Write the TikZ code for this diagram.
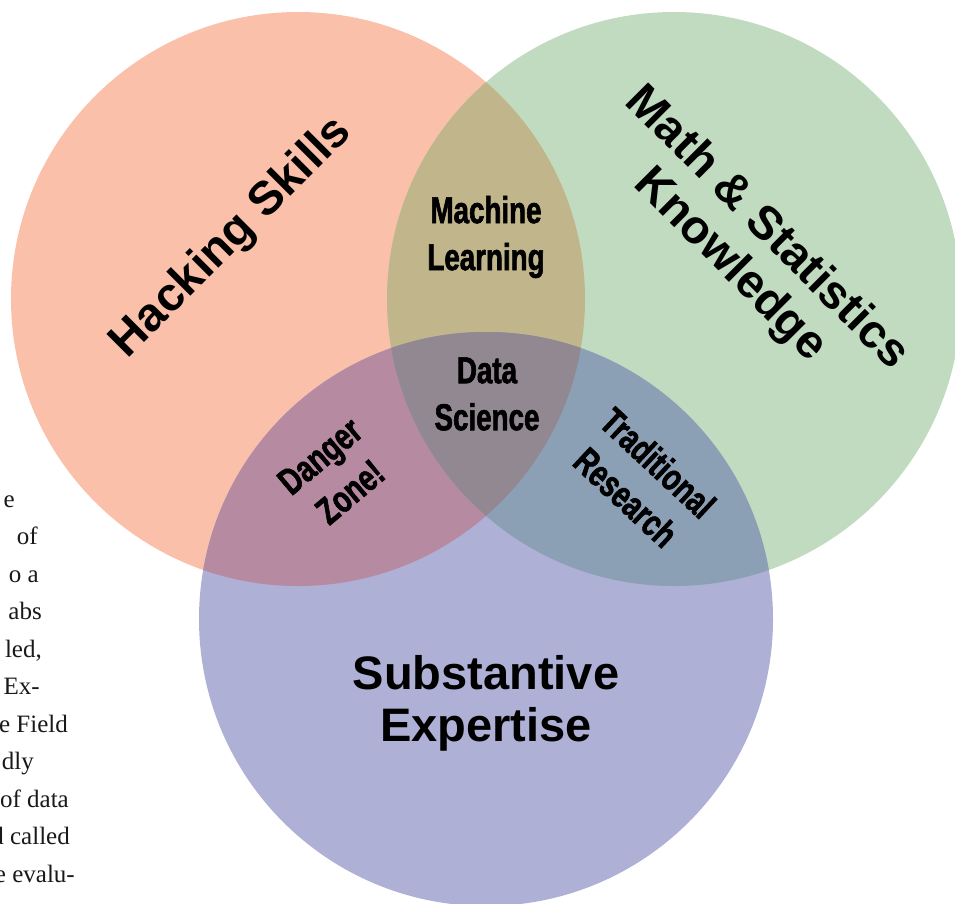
\documentclass[tikz,border=0pt]{standalone}
\usepackage{fontspec}
\setmainfont{Liberation Sans}
\newfontfamily\narrowfont[FakeStretch=0.74, FakeBold=1.6]{Liberation Sans}
\newfontfamily\bodyfont{Liberation Serif}
\usetikzlibrary{positioning}

\definecolor{hackcol}{HTML}{FAC0AA}
\definecolor{mathcol}{HTML}{C1DBC0}
\definecolor{substcol}{HTML}{AEB0D6}
\definecolor{mlcol}{HTML}{C1B58B}
\definecolor{dangercol}{HTML}{B68BA1}
\definecolor{tradcol}{HTML}{8BA0B4}
\definecolor{dscol}{HTML}{928891}

\begin{document}
\begin{tikzpicture}[
    x=1pt, y=-1pt,
    bigtag/.style={align=center, inner sep=0pt, font=\fontsize{47}{52}\selectfont\bfseries},
    smalltag/.style={align=center, inner sep=0pt, font=\narrowfont\bfseries\fontsize{37.5}{47}\selectfont},
    margintext/.style={anchor=base east, inner sep=0pt, text=black!90, font=\bodyfont\fontsize{25}{30}\selectfont}
]
    \useasboundingbox (0,0) rectangle (955,903);
    \def\rad{287pt}
    % centres of the three sets
    \coordinate (hack) at (298,299);
    \coordinate (math) at (674,299);
    \coordinate (subst) at (486,619);

    % the sets
    \fill[hackcol] (hack) circle[radius=\rad];
    \fill[mathcol] (math) circle[radius=\rad];
    \fill[substcol] (subst) circle[radius=\rad];

    % pairwise overlaps
    \begin{scope}
        \clip (hack) circle[radius=\rad];
        \fill[mlcol] (math) circle[radius=\rad];
        \fill[dangercol] (subst) circle[radius=\rad];
    \end{scope}
    \begin{scope}
        \clip (math) circle[radius=\rad];
        \fill[tradcol] (subst) circle[radius=\rad];
    \end{scope}
    % all three
    \begin{scope}
        \clip (hack) circle[radius=\rad];
        \clip (math) circle[radius=\rad];
        \fill[dscol] (subst) circle[radius=\rad];
    \end{scope}

    % set names
    \node[bigtag, rotate=45] (hacking) at (232,238) {Hacking Skills};
    \node[bigtag, rotate=-45] (mathstat) at (748,247) {Math \& Statistics\\Knowledge};
    \node[bigtag] (expertise) at (486,703) {Substantive\\Expertise};

    % overlap names
    \node[smalltag] (ml) at (486,237) {Machine\\Learning};
    \node[smalltag] (ds) at (487,394) {Data\\Science};
    \node[smalltag, rotate=40] (danger) at (335,474) {Danger\\Zone!};
    \node[smalltag, rotate=-43] (trad) at (642,480) {Traditional\\Research};

    % running text cut off at the left edge
    \foreach \txt/\xe [count=\i] in {e/15, of/38, o a/39, abs/42, {led,}/42, Ex-/40,
        e Field/68, dly/34, of data/69, d called/70, e evalu-/75}
        \node[margintext] (line\i) at (\xe, 469.5+37.5*\i) {\txt};
\end{tikzpicture}
\end{document}
